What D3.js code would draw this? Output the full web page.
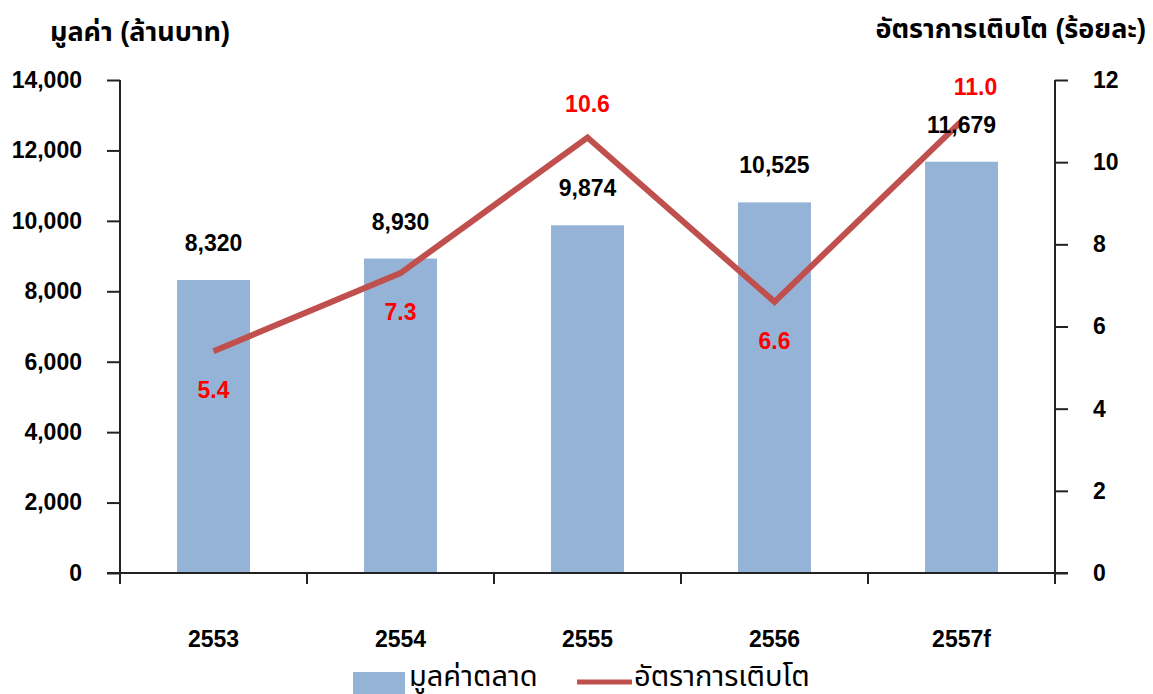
<!DOCTYPE html>
<html>
<head>
<meta charset="utf-8">
<script src="https://cdn.jsdelivr.net/npm/d3@7"></script>
<style>
  body { margin: 0; background: #fff; }
  svg text { font-family: Arial, "Liberation Sans", Tahoma, "Noto Sans Thai", sans-serif; }
</style>
</head>
<body>
<div class="chart"></div>
<script>
////////////////
// CHART DATA //
////////////////

var years = ['2553', '2554', '2555', '2556', '2557f'];
var marketValue = [8320, 8930, 9874, 10525, 11679];   // ล้านบาท
var growthRate = [5.4, 7.3, 10.6, 6.6, 11.0];          // ร้อยละ
var leftTicks = [0, 2000, 4000, 6000, 8000, 10000, 12000, 14000];
var rightTicks = [0, 2, 4, 6, 8, 10, 12];
var growthLabelSide = ['below', 'below', 'above', 'below', 'above'];

//////////////////
// INITIAL SETS //
//////////////////

var w = 1153,
    h = 694;

var plot = { left: 120, right: 1055, top: 80, bottom: 573 };
var axisColor = '#222';
var numFont = '23px';

var svg = d3.select('.chart')
    .append('svg')
    .attr('width', w)
    .attr('height', h);

////////////
// SCALES //
////////////

var xScale = d3.scaleBand()
    .domain(years)
    .range([plot.left, plot.right])
    .paddingInner(0)
    .paddingOuter(0);

var yLeft = d3.scaleLinear()
    .domain([0, 14000])
    .range([plot.bottom, plot.top]);

var yRight = d3.scaleLinear()
    .domain([0, 12])
    .range([plot.bottom, plot.top]);

var barW = xScale.bandwidth() * 0.39;
var fmt = d3.format(',');

function cx(i) { return xScale(years[i]) + xScale.bandwidth() / 2; }

//////////
// BARS //
//////////

svg.selectAll('.bar')
    .data(marketValue)
    .enter()
    .append('rect')
    .attr('class', 'bar')
    .attr('x', function(d, i) { return cx(i) - barW / 2; })
    .attr('y', function(d) { return yLeft(d); })
    .attr('width', barW)
    .attr('height', function(d) { return yLeft(0) - yLeft(d); })
    .attr('fill', '#95B3D7');

//////////
// AXES //
//////////

var leftAxis = d3.axisLeft(yLeft)
    .tickValues(leftTicks)
    .tickSize(13)
    .tickPadding(25)
    .tickFormat(fmt);

var rightAxis = d3.axisRight(yRight)
    .tickValues(rightTicks)
    .tickSize(13)
    .tickPadding(25)
    .tickFormat(d3.format('d'));

var bottomAxis = d3.axisBottom(xScale)
    .tickSize(0)
    .tickPadding(58);

function styleAxis(g) {
    g.select('.domain').remove();
    g.selectAll('line').attr('stroke', axisColor).attr('stroke-width', 2);
    g.selectAll('text')
        .attr('fill', '#000')
        .style('font-size', numFont)
        .style('font-weight', 'bold');
}

svg.append('g')
    .attr('transform', 'translate(' + plot.left + ',0)')
    .call(leftAxis)
    .call(styleAxis);

svg.append('g')
    .attr('transform', 'translate(' + plot.right + ',0)')
    .call(rightAxis)
    .call(styleAxis);

svg.append('g')
    .attr('transform', 'translate(0,' + plot.bottom + ')')
    .call(bottomAxis)
    .call(styleAxis);

// category boundary ticks under the x axis
var boundaries = years.map(function(d) { return xScale(d); }).concat([plot.right]);

svg.selectAll('.xtick')
    .data(boundaries)
    .enter()
    .append('line')
    .attr('x1', function(d) { return d; })
    .attr('x2', function(d) { return d; })
    .attr('y1', plot.bottom)
    .attr('y2', plot.bottom + 11)
    .attr('stroke', axisColor)
    .attr('stroke-width', 2);

// axis lines
svg.append('line')
    .attr('x1', plot.left).attr('x2', plot.left)
    .attr('y1', plot.top).attr('y2', plot.bottom)
    .attr('stroke', axisColor).attr('stroke-width', 2);

svg.append('line')
    .attr('x1', plot.right).attr('x2', plot.right)
    .attr('y1', plot.top).attr('y2', plot.bottom)
    .attr('stroke', axisColor).attr('stroke-width', 2);

svg.append('line')
    .attr('x1', plot.left - 13).attr('x2', plot.right + 13)
    .attr('y1', plot.bottom).attr('y2', plot.bottom)
    .attr('stroke', axisColor).attr('stroke-width', 2);

//////////
// LINE //
//////////

var line = d3.line()
    .x(function(d, i) { return cx(i); })
    .y(function(d) { return yRight(d); });

svg.append('path')
    .datum(growthRate)
    .attr('d', line)
    .attr('fill', 'none')
    .attr('stroke', '#C0504D')
    .attr('stroke-width', 6)
    .attr('stroke-linejoin', 'miter');

////////////
// LABELS //
////////////

svg.selectAll('.val-label')
    .data(marketValue)
    .enter()
    .append('text')
    .attr('class', 'val-label')
    .attr('x', function(d, i) { return cx(i); })
    .attr('y', function(d) { return yLeft(d) - 29; })
    .attr('text-anchor', 'middle')
    .style('font-size', numFont)
    .style('font-weight', 'bold')
    .attr('fill', '#000')
    .text(function(d) { return fmt(d); });

svg.selectAll('.rate-label')
    .data(growthRate)
    .enter()
    .append('text')
    .attr('class', 'rate-label')
    .attr('x', function(d, i) {
        return i === years.length - 1 ? cx(i) + 14 : cx(i);
    })
    .attr('y', function(d, i) {
        return growthLabelSide[i] === 'above' ? yRight(d) - 26 : yRight(d) + 47;
    })
    .attr('text-anchor', 'middle')
    .style('font-size', numFont)
    .style('font-weight', 'bold')
    .attr('fill', '#FF0000')
    .text(function(d) { return d.toFixed(1); });

/////////////////
// AXIS TITLES //
/////////////////

svg.append('text')
    .attr('x', 50)
    .attr('y', 41)
    .style('font-size', '27px')
    .style('font-weight', 'bold')
    .attr('fill', '#000')
    .text('มูลค่า (ล้านบาท)');

svg.append('text')
    .attr('x', 1146)
    .attr('y', 38)
    .attr('text-anchor', 'end')
    .style('font-size', '27px')
    .style('font-weight', 'bold')
    .attr('fill', '#000')
    .text('อัตราการเติบโต (ร้อยละ)');

////////////
// LEGEND //
////////////

var legend = svg.append('g');

legend.append('rect')
    .attr('x', 353).attr('y', 672)
    .attr('width', 52).attr('height', 22)
    .attr('fill', '#95B3D7');

legend.append('text')
    .attr('x', 409).attr('y', 686)
    .style('font-size', '29px')
    .attr('fill', '#000')
    .text('มูลค่าตลาด');

legend.append('line')
    .attr('x1', 577).attr('x2', 632)
    .attr('y1', 682).attr('y2', 682)
    .attr('stroke', '#C0504D')
    .attr('stroke-width', 5);

legend.append('text')
    .attr('x', 634).attr('y', 686)
    .style('font-size', '29px')
    .attr('fill', '#000')
    .text('อัตราการเติบโต');
</script>
</body>
</html>
